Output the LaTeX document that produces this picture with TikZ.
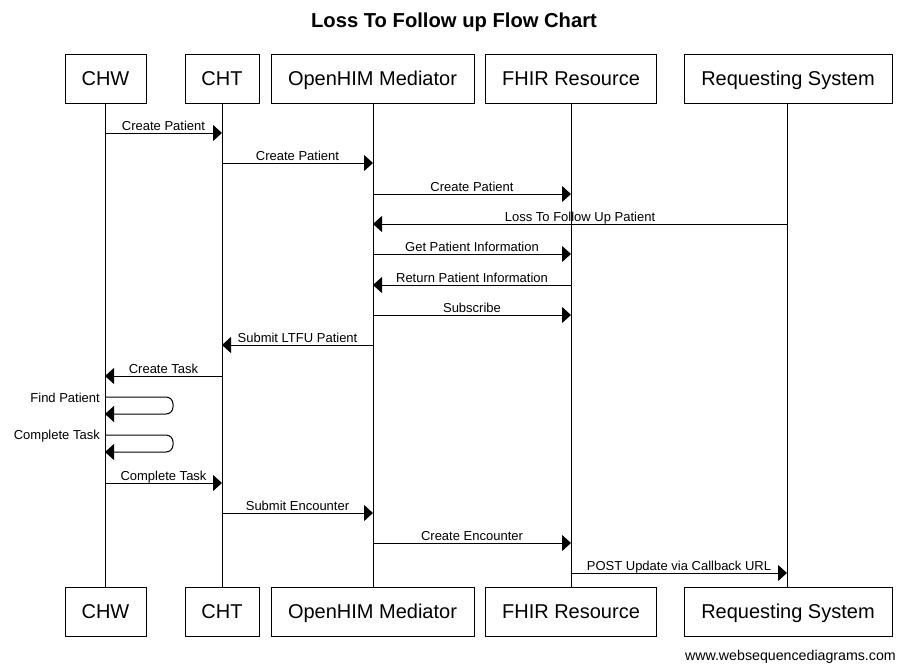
\documentclass[tikz,border=0pt]{standalone}
\usepackage{fontspec}
\setmainfont{Liberation Sans}
\usetikzlibrary{arrows.meta}
\begin{document}
\begin{tikzpicture}[x=1pt,y=-1pt,
  actor/.style={draw,line width=1pt,minimum height=49pt,inner sep=0pt,text height=17pt,text depth=4pt,font=\fontsize{20}{24}\selectfont},
  life/.style={line width=1pt},
  msg/.style={line width=1pt,-{Triangle[length=9pt,width=16pt]}},
  lbl/.style={font=\fontsize{13}{15}\selectfont,inner sep=0pt,anchor=base,yshift=3pt},
  slbl/.style={font=\fontsize{13}{15}\selectfont,inner sep=0pt,anchor=east},
]
\useasboundingbox (0,0) rectangle (906,670);
\node[font=\bfseries\fontsize{20.2}{24}\selectfont] (title) at (454,22) {Loss To Follow up Flow Chart};
% top actors
\node[actor,minimum width=81pt] (chw) at (105.5,78.5) {CHW};
\node[actor,minimum width=74pt] (cht) at (222,78.5) {CHT};
\node[actor,minimum width=203pt] (ohm) at (372.5,78.5) {OpenHIM Mediator};
\node[actor,minimum width=171pt] (fhir) at (571,78.5) {FHIR Resource};
\node[actor,minimum width=208pt] (req) at (788,78.5) {Requesting System};
% bottom actors
\node[actor,minimum width=81pt] (chwb) at (105.5,611.5) {CHW};
\node[actor,minimum width=74pt] (chtb) at (222,611.5) {CHT};
\node[actor,minimum width=203pt] (ohmb) at (372.5,611.5) {OpenHIM Mediator};
\node[actor,minimum width=171pt] (fhirb) at (571,611.5) {FHIR Resource};
\node[actor,minimum width=208pt] (reqb) at (788,611.5) {Requesting System};
% lifelines
\coordinate (Lchw) at (105,0);
\coordinate (Lcht) at (222,0);
\coordinate (Lohm) at (373,0);
\coordinate (Lfhir) at (571,0);
\coordinate (Lreq) at (787,0);
\draw[life] (Lchw |- chw.south) -- (Lchw |- chwb.north);
\draw[life] (Lcht |- cht.south) -- (Lcht |- chtb.north);
\draw[life] (Lohm |- ohm.south) -- (Lohm |- ohmb.north);
\draw[life] (Lfhir |- fhir.south) -- (Lfhir |- fhirb.north);
\draw[life] (Lreq |- req.south) -- (Lreq |- reqb.north);
% messages
\newcommand{\seqmsgb}[5]{%
  \coordinate (#5a) at (#1 |- 0,#3);
  \coordinate (#5b) at (#2 |- 0,#3);
  \draw[msg] (#5a) -- (#5b);
  \path (#5a) -- (#5b) node[lbl,midway] {#4};}
\seqmsgb{Lchw}{Lcht}{133}{Create Patient}{m1}
\seqmsgb{Lcht}{Lohm}{163}{Create Patient}{m2}
\seqmsgb{Lohm}{Lfhir}{194}{Create Patient}{m3}
\seqmsgb{Lreq}{Lohm}{224}{Loss To Follow Up Patient}{m4}
\seqmsgb{Lohm}{Lfhir}{254}{Get Patient Information}{m5}
\seqmsgb{Lfhir}{Lohm}{285}{Return Patient Information}{m6}
\seqmsgb{Lohm}{Lfhir}{315}{Subscribe}{m7}
\seqmsgb{Lohm}{Lcht}{345}{Submit LTFU Patient}{m8}
\seqmsgb{Lcht}{Lchw}{376}{Create Task}{m9}
% self messages
\coordinate (s1a) at (Lchw |- 0,397);
\coordinate (s1r) at (173,397);
\coordinate (s1b) at (Lchw |- 0,414);
\draw[msg,rounded corners=7pt] (s1a) -- (s1r) -- (s1r |- s1b) -- (s1b);
\node[slbl] (s1l) at ([xshift=-5pt,yshift=-1pt]s1a) {Find Patient};
\coordinate (s2a) at (Lchw |- 0,435);
\coordinate (s2r) at (173,435);
\coordinate (s2b) at (Lchw |- 0,452);
\draw[msg,rounded corners=7pt] (s2a) -- (s2r) -- (s2r |- s2b) -- (s2b);
\node[slbl] (s2l) at ([xshift=-5pt,yshift=-1pt]s2a) {Complete Task};
\seqmsgb{Lchw}{Lcht}{483}{Complete Task}{m10}
\seqmsgb{Lcht}{Lohm}{513}{Submit Encounter}{m11}
\seqmsgb{Lohm}{Lfhir}{543}{Create Encounter}{m12}
\seqmsgb{Lfhir}{Lreq}{573}{POST Update via Callback URL}{m13}
\node[font=\fontsize{14.2}{17}\selectfont,anchor=base east,inner sep=0pt] (foot) at (896,660) {www.websequencediagrams.com};
\end{tikzpicture}
\end{document}
